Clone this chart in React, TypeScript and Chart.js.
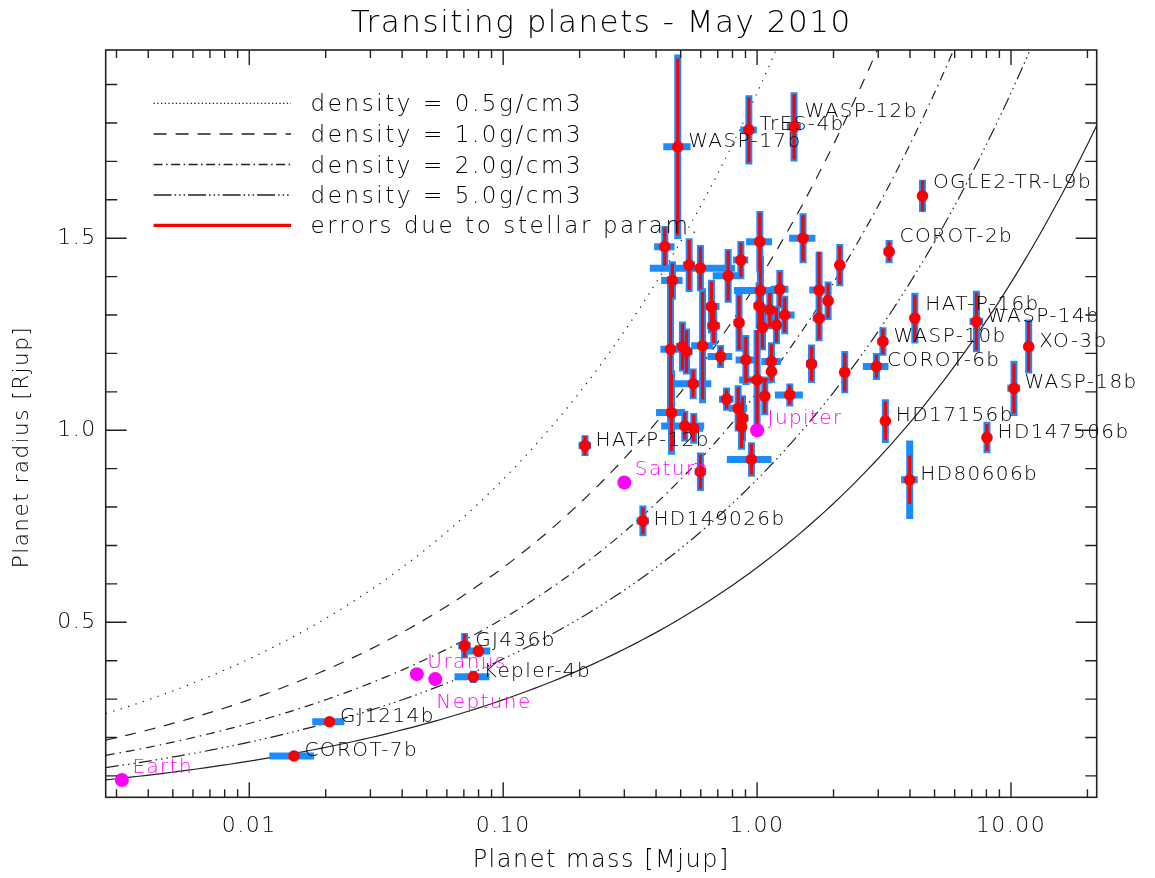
import React, { useEffect, useRef } from "react";
import { Chart, registerables } from "chart.js";

Chart.register(...registerables);

// ---------- axis ranges & ticks ----------
const X_MIN = 0.00272;
const X_MAX = 21.75;
const Y_MIN = 0.0443;
const Y_MAX = 1.99;
const xTickValues = [0.01, 0.1, 1, 10];
const yTickValues = [0.5, 1.0, 1.5];

// ---------- transiting planets ----------
const planetNames = [
  "WASP-17b", "TrES-4b", "WASP-12b", "OGLE2-TR-L9b", "COROT-2b", "HAT-P-16b", "WASP-14b",
  "WASP-10b", "XO-3b", "COROT-6b", "WASP-18b", "HD17156b", "HD147506b", "HD80606b",
  "HAT-P-12b", "HD149026b", "GJ436b", "Kepler-4b", "GJ1214b", "COROT-7b",
  "", "", "", "", "", "", "", "", "", "", "", "", "", "", "", "", "", "", "", "", "", "", "",
  "", "", "", "", "", "", "", "", "", "", "", "", "", "", "", "", "", "", "", "", "", "", "",
];
const planetMass = [
  0.487, 0.928, 1.398, 4.48, 3.31, 4.18, 7.31,
  3.13, 11.74, 2.95, 10.27, 3.2, 8.04, 3.99,
  0.21, 0.355, 0.0705, 0.0763, 0.0207, 0.015,
  0.0799, 0.433, 0.54, 0.598, 0.464, 0.769, 0.863, 1.025, 1.517, 2.117, 1.031, 1.229, 0.661,
  1.018, 1.122, 1.285, 1.754, 1.904, 1.754, 0.849, 0.675, 1.05, 1.192, 0.508, 0.456,
  0.527, 0.61, 0.718, 0.903, 1.139, 1.139, 1.638, 2.214, 0.56, 1.0, 1.072, 1.345, 0.758,
  0.842, 0.876, 0.868, 0.46, 0.519, 0.563, 0.95, 0.598,
];
const planetRadius = [
  1.738, 1.782, 1.79, 1.61, 1.465, 1.292, 1.283,
  1.231, 1.218, 1.166, 1.109, 1.024, 0.981, 0.871,
  0.96, 0.764, 0.439, 0.358, 0.241, 0.152,
  0.425, 1.478, 1.43, 1.422, 1.39, 1.402, 1.443, 1.491, 1.5, 1.43, 1.364, 1.367, 1.322,
  1.324, 1.313, 1.3, 1.365, 1.337, 1.292, 1.28, 1.272, 1.268, 1.274, 1.218, 1.211,
  1.205, 1.22, 1.192, 1.183, 1.179, 1.153, 1.173, 1.151, 1.121, 1.131, 1.089, 1.092, 1.081,
  1.057, 1.031, 1.009, 1.046, 1.011, 1.005, 0.924, 0.892,
];
// total errors (blue bars)
const massError = [
  0.06, 0.07, 0.09, 0.1, 0.16, 0.09, 0.45,
  0.15, 0.5, 0.34, 0.6, 0.1, 0.3, 0.3,
  0.012, 0.02, 0.004, 0.012, 0.003, 0.003,
  0.009, 0.04, 0.03, 0.22, 0.045, 0.1, 0.06, 0.12, 0.18, 0.07, 0.22, 0.1, 0.05,
  0.05, 0.05, 0.12, 0.15, 0.08, 0.1, 0.04, 0.04, 0.05, 0.05, 0.03, 0.04,
  0.03, 0.06, 0.08, 0.08, 0.1, 0.04, 0.08, 0.1, 0.1, 0.15, 0.04, 0.17, 0.05,
  0.07, 0.05, 0.04, 0.06, 0.1, 0.05, 0.19, 0.03,
];
const radiusError = [
  0.24, 0.09, 0.09, 0.042, 0.03, 0.066, 0.08,
  0.037, 0.07, 0.035, 0.072, 0.057, 0.041, 0.102,
  0.027, 0.04, 0.033, 0.016, 0.011, 0.008,
  0.015, 0.054, 0.07, 0.06, 0.05, 0.07, 0.05, 0.08, 0.065, 0.055, 0.09, 0.05, 0.07,
  0.06, 0.05, 0.05, 0.1, 0.05, 0.06, 0.075, 0.05, 0.06, 0.05, 0.065, 0.19,
  0.06, 0.15, 0.03, 0.065, 0.05, 0.03, 0.05, 0.055, 0.04, 0.13, 0.05, 0.03, 0.03,
  0.06, 0.06, 0.06, 0.11, 0.04, 0.04, 0.045, 0.05,
];
// errors due to stellar parameters (red bars)
const radiusErrorStellar = [
  0.23, 0.085, 0.085, 0.04, 0.025, 0.06, 0.075,
  0.033, 0.065, 0.03, 0.065, 0.05, 0.035, 0.063,
  0.025, 0.035, 0.03, 0.012, 0.008, 0.006,
  0.01, 0.05, 0.065, 0.055, 0.045, 0.065, 0.045, 0.075, 0.06, 0.05, 0.08, 0.045, 0.065,
  0.055, 0.045, 0.045, 0.1, 0.045, 0.055, 0.07, 0.045, 0.055, 0.045, 0.06, 0.18,
  0.055, 0.14, 0.025, 0.06, 0.045, 0.025, 0.045, 0.05, 0.035, 0.13, 0.045, 0.025, 0.025,
  0.055, 0.055, 0.055, 0.1, 0.035, 0.035, 0.04, 0.045,
];
const massErrorStellar = planetMass.map((_, i) => (i === 54 ? 0.1 : 0));

// label nudges (radius units) for labels placed above the baseline
const labelLift = planetNames.map((n) =>
  n === "WASP-12b" || n === "COROT-2b" ? 0.026 : n === "HAT-P-16b" ? 0.022 : n === "OGLE2-TR-L9b" ? 0.02 : n === "HD149026b" ? -0.01 : 0
);

// ---------- solar system planets ----------
const solarNames = ["Earth", "Uranus", "Neptune", "Saturn", "Jupiter"];
const solarMass = [0.00315, 0.0457, 0.054, 0.3, 1.0];
const solarRadius = [0.0893, 0.365, 0.352, 0.864, 1.0];
const solarLabelLift = [0.019, 0.017, -0.075, 0.02, 0.017];
const solarLabelShift = [1.1, 1.1, 1.01, 1.1, 1.1];

// ---------- iso-density curves ----------
const JUPITER_DENSITY = 1.326; // g/cm3
const curveDensities = [0.2, 0.5, 1.0, 2.0, 5.0];
const curveDash = [[1.3, 6.5], [11, 9], [9, 5, 1.5, 5], [13, 4, 1.5, 4, 1.5, 4, 1.5, 4], []];
const legendLabels = [
  "density = 0.5g/cm3",
  "density = 1.0g/cm3",
  "density = 2.0g/cm3",
  "density = 5.0g/cm3",
  "errors due to stellar param.",
];
const legendDash = [[1.3, 2.4], [13, 9], [9, 3.5, 1.5, 3.5], [18, 3, 1.5, 3, 1.5, 3, 1.5, 3], []];

const BLUE = "#1a8cff";
const RED = "#ff0000";
const MAGENTA = "#ff00ff";
const INK = "#000000";
const FONT = "'DejaVu Sans', sans-serif";
const W = "200";
const LABEL_MASS_FACTOR = 1.1;
const PLANET_DS = 5;

const massGrid: number[] = [];
for (let i = 0; i <= 120; i++) {
  massGrid.push(Math.pow(10, Math.log10(X_MIN) + (Math.log10(X_MAX) - Math.log10(X_MIN)) * (i / 120)));
}

const errorBarPlugin = {
  id: "errorBars",
  beforeDatasetDraw(chart: any, args: any) {
    if (args.index !== PLANET_DS) return;
    const { ctx, chartArea: a } = chart;
    const xs = chart.scales.x;
    const ys = chart.scales.y;
    ctx.save();
    ctx.beginPath();
    ctx.rect(a.left, a.top, a.right - a.left, a.bottom - a.top);
    ctx.clip();
    ctx.lineCap = "butt";
    const drawBars = (color: string, width: number, mErr: number[], rErr: number[]) => {
      ctx.strokeStyle = color;
      ctx.lineWidth = width;
      ctx.beginPath();
      for (let i = 0; i < planetMass.length; i++) {
        const m = planetMass[i];
        const r = planetRadius[i];
        const px = xs.getPixelForValue(m);
        const py = ys.getPixelForValue(r);
        if (mErr[i] > 0) {
          const lo = Math.max(m - mErr[i], X_MIN * 0.5);
          ctx.moveTo(xs.getPixelForValue(lo), py);
          ctx.lineTo(xs.getPixelForValue(m + mErr[i]), py);
        }
        if (rErr[i] > 0) {
          ctx.moveTo(px, ys.getPixelForValue(r - rErr[i]));
          ctx.lineTo(px, ys.getPixelForValue(r + rErr[i]));
        }
      }
      ctx.stroke();
    };
    drawBars(BLUE, 7, massError, radiusError);
    drawBars(RED, 3.2, massErrorStellar, radiusErrorStellar);
    ctx.restore();
  },
};

const decorPlugin = {
  id: "decor",
  beforeDraw(chart: any) {
    chart.ctx.letterSpacing = "1.5px";
  },
  afterDatasetsDraw(chart: any) {
    const { ctx } = chart;
    const xs = chart.scales.x;
    const ys = chart.scales.y;
    ctx.save();
    ctx.letterSpacing = "1.4px";
    ctx.font = `${W} 20px ${FONT}`;
    ctx.textAlign = "left";
    ctx.textBaseline = "alphabetic";
    ctx.fillStyle = INK;
    planetNames.forEach((n, i) => {
      if (!n) return;
      ctx.fillText(n, xs.getPixelForValue(planetMass[i] * LABEL_MASS_FACTOR), ys.getPixelForValue(planetRadius[i] + labelLift[i]));
    });
    ctx.fillStyle = MAGENTA;
    solarNames.forEach((n, i) => {
      ctx.fillText(n, xs.getPixelForValue(solarMass[i] * solarLabelShift[i]), ys.getPixelForValue(solarRadius[i] + solarLabelLift[i]));
    });
    ctx.restore();
  },
  afterDraw(chart: any) {
    const { ctx, chartArea: a } = chart;
    const xs = chart.scales.x;
    const ys = chart.scales.y;
    ctx.save();
    // frame
    ctx.strokeStyle = "#222";
    ctx.lineWidth = 1.6;
    ctx.strokeRect(a.left, a.top, a.right - a.left, a.bottom - a.top);
    ctx.lineWidth = 1.4;
    ctx.beginPath();
    for (let d = -3; d <= 1; d++) {
      for (let k = 1; k <= 9; k++) {
        const v = k * Math.pow(10, d);
        if (v < X_MIN || v > X_MAX) continue;
        const px = xs.getPixelForValue(v);
        const len = k === 1 ? 15 : 8;
        ctx.moveTo(px, a.bottom);
        ctx.lineTo(px, a.bottom - len);
        ctx.moveTo(px, a.top);
        ctx.lineTo(px, a.top + len);
      }
    }
    for (let k = 1; k <= 19; k++) {
      const v = k / 10;
      if (v < Y_MIN || v > Y_MAX) continue;
      const py = ys.getPixelForValue(v);
      const len = k % 5 === 0 ? 21 : 11.5;
      ctx.moveTo(a.left, py);
      ctx.lineTo(a.left + len, py);
      ctx.moveTo(a.right, py);
      ctx.lineTo(a.right - len, py);
    }
    ctx.stroke();

    // y-axis title (centred a little below the axis middle, as in the original)
    ctx.save();
    ctx.translate(22, 447);
    ctx.rotate(-Math.PI / 2);
    ctx.font = `${W} 21.5px ${FONT}`;
    ctx.letterSpacing = "1.5px";
    ctx.fillStyle = INK;
    ctx.textAlign = "center";
    ctx.textBaseline = "middle";
    ctx.fillText("Planet radius [Rjup]", 0, 0);
    ctx.restore();

    // legend
    const rowY = [103.3, 134, 164.5, 195, 225.3];
    ctx.font = `${W} 23px ${FONT}`;
    ctx.letterSpacing = "2.6px";
    ctx.textAlign = "left";
    ctx.textBaseline = "alphabetic";
    legendLabels.forEach((t, i) => {
      const y = rowY[i];
      ctx.beginPath();
      ctx.setLineDash(legendDash[i]);
      ctx.strokeStyle = i === 4 ? RED : "#222";
      ctx.lineWidth = i === 4 ? 3.2 : 1.3;
      ctx.moveTo(153.6, y);
      ctx.lineTo(291, y);
      ctx.stroke();
      ctx.setLineDash([]);
      ctx.fillStyle = INK;
      ctx.fillText(t, 310.5, y + 8);
    });
    ctx.restore();
  },
};

export default function App() {
  const ref = useRef<HTMLCanvasElement>(null);
  useEffect(() => {
    document.body.style.margin = "0";
    const canvas = ref.current!;
    const curveSets = curveDensities.map((rho, i) => ({
      type: "scatter" as const,
      label: `rho ${rho}`,
      data: massGrid.map((m) => ({ x: m, y: Math.cbrt((m * JUPITER_DENSITY) / rho) })),
      showLine: true,
      pointRadius: 0,
      borderColor: "#222",
      borderWidth: 1.2,
      borderDash: curveDash[i],
      order: 10,
    }));
    const chart = new Chart(canvas, {
      type: "scatter",
      data: {
        datasets: [
          ...curveSets,
          {
            label: "planets",
            data: planetMass.map((m, i) => ({ x: m, y: planetRadius[i] })),
            pointRadius: 5.8,
            pointStyle: "circle",
            backgroundColor: RED,
            borderWidth: 0,
            order: 2,
          },
          {
            label: "solar system",
            data: solarMass.map((m, i) => ({ x: m, y: solarRadius[i] })),
            pointRadius: 7,
            pointStyle: "circle",
            backgroundColor: MAGENTA,
            borderWidth: 0,
            order: 1,
          },
        ],
      },
      options: {
        responsive: false,
        devicePixelRatio: 1,
        animation: false,
        events: [],
        font: { family: FONT },
        layout: { padding: { left: 0, right: 58.3, top: 0, bottom: 0 } },
        plugins: {
          legend: { display: false },
          tooltip: { enabled: false },
          title: {
            display: true,
            text: "Transiting planets - May 2010",
            color: INK,
            fullSize: false,
            font: { family: FONT, size: 31, weight: W },
            padding: { top: 5, bottom: 7.8 },
          },
        },
        scales: {
          x: {
            type: "logarithmic",
            position: "bottom",
            min: X_MIN,
            max: X_MAX,
            bounds: "data",
            grid: { display: false, drawTicks: false },
            border: { display: false },
            afterBuildTicks: (s: any) => {
              s.ticks = xTickValues.map((v) => ({ value: v }));
            },
            afterFit: (s: any) => {
              s.height = 80.7;
            },
            ticks: {
              font: { family: FONT, size: 22, weight: W },
              color: INK,
              padding: 16,
              maxRotation: 0,
              autoSkip: false,
              callback: (v: any) => Number(v).toFixed(2),
            },
            title: {
              display: true,
              text: "Planet mass [Mjup]",
              color: INK,
              font: { family: FONT, size: 24, weight: W },
              padding: { top: 0, bottom: 3 },
            },
          },
          y: {
            type: "linear",
            position: "left",
            min: Y_MIN,
            max: Y_MAX,
            bounds: "data",
            grid: { display: false, drawTicks: false },
            border: { display: false },
            afterBuildTicks: (s: any) => {
              s.ticks = yTickValues.map((v) => ({ value: v }));
            },
            afterFit: (s: any) => {
              s.width = 105.7;
            },
            ticks: {
              font: { family: FONT, size: 22, weight: W },
              color: INK,
              padding: 9,
              autoSkip: false,
              callback: (v: any) => Number(v).toFixed(1),
            },
            title: { display: false },
          },
        },
      },
      plugins: [errorBarPlugin, decorPlugin],
    } as any);
    return () => chart.destroy();
  }, []);
  return (
    <div style={{ position: "absolute", left: 0, top: 0, width: 1155, height: 878, background: "#fff" }}>
      <canvas ref={ref} width={1155} height={878} style={{ display: "block" }} />
    </div>
  );
}
